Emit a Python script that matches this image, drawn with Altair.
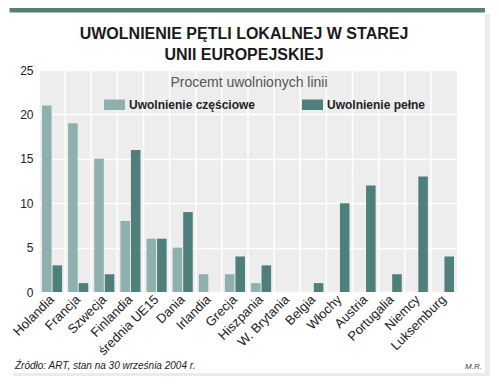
import altair as alt
import pandas as pd

countries = ["Holandia", "Francja", "Szwecja", "Finlandia", "średnia UE15", "Dania",
             "Irlandia", "Grecja", "Hiszpania", "W. Brytania", "Belgia", "Włochy",
             "Austria", "Portugalia", "Niemcy", "Luksemburg"]
partial = [21, 19, 15, 8, 6, 5, 2, 2, 1, 0, 0, 0, 0, 0, 0, 0]
full = [3, 1, 2, 16, 6, 9, 0, 4, 3, 0, 1, 10, 12, 2, 13, 4]
series = ["Uwolnienie częściowe", "Uwolnienie pełne"]
colors = ["#8eb0ae", "#4f7f7b"]
y_ticks = [0, 5, 10, 15, 20, 25]

title_lines = ["UWOLNIENIE PĘTLI LOKALNEJ W STAREJ", "UNII EUROPEJSKIEJ"]
legend_title = "Procemt uwolnionych linii"
source_text = "Źródło: ART, stan na 30 września 2004 r."
author_text = "M.R."

rows = []
for c, p, f in zip(countries, partial, full):
    rows.append({"kraj": c, "seria": series[0], "wartosc": p})
    rows.append({"kraj": c, "seria": series[1], "wartosc": f})
df = pd.DataFrame(rows)
cat_df = pd.DataFrame({"kraj": countries})

SANS = "Liberation Sans, Arial, Helvetica, sans-serif"

W, H = 418, 222

x_enc = alt.X("kraj:N", sort=countries,
              scale=alt.Scale(paddingInner=0, paddingOuter=0),
              axis=alt.Axis(title=None, labelAngle=-45, labelFont=SANS, labelFontSize=13,
                            labelColor="#222222", ticks=False, domain=False, grid=False,
                            labelPadding=5))
y_enc = alt.Y("wartosc:Q", scale=alt.Scale(domain=[0, 25]),
              axis=alt.Axis(title=None, values=y_ticks, grid=True, gridColor="white",
                            gridWidth=1.5, domain=False, ticks=False, labelPadding=6,
                            labelFont=SANS, labelFontSize=12, labelColor="#222222"))

one = alt.Data(values=[{}])

shadow_r = alt.Chart(one).mark_rect(color="#ebebeb").encode(
    x=alt.value(446), x2=alt.value(451), y=alt.value(-56), y2=alt.value(307))
shadow_b = alt.Chart(one).mark_rect(color="#ebebeb").encode(
    x=alt.value(-26), x2=alt.value(451), y=alt.value(303), y2=alt.value(307))
top_bar = alt.Chart(one).mark_rect(color="#587e72").encode(
    x=alt.value(-29.5), x2=alt.value(446), y=alt.value(-62), y2=alt.value(-57.5))

title1 = alt.Chart(one).mark_text(
    text=title_lines[0], font=SANS, fontSize=16, fontWeight="bold", color="#1a1a1a",
    align="center", baseline="alphabetic").encode(x=alt.value(205), y=alt.value(-31))
title2 = alt.Chart(one).mark_text(
    text=title_lines[1], font=SANS, fontSize=16, fontWeight="bold", color="#1a1a1a",
    align="center", baseline="alphabetic").encode(x=alt.value(205), y=alt.value(-10))

vgrid = alt.Chart(cat_df).mark_rule(color="white", strokeWidth=1.5).encode(
    x=alt.X("kraj:N", sort=countries, bandPosition=0)
)

bars = alt.Chart(df).mark_bar().encode(
    x=x_enc,
    xOffset=alt.XOffset("seria:N", sort=series,
                        scale=alt.Scale(paddingInner=0.095, paddingOuter=0.2857)),
    y=y_enc,
    color=alt.Color("seria:N", sort=series,
                    scale=alt.Scale(domain=series, range=colors),
                    legend=alt.Legend(title=None, orient="none", legendX=65, legendY=24,
                                      direction="horizontal", gridAlign="each",
                                      columnPadding=46,
                                      symbolType="M-1,-0.5L1,-0.5L1,0.5L-1,0.5Z",
                                      symbolSize=441, symbolStrokeWidth=0,
                                      labelFont=SANS, labelFontSize=12,
                                      labelFontWeight="bold", labelColor="#222222",
                                      labelOffset=4)),
)

leg_title = alt.Chart(one).mark_text(
    text=legend_title, font=SANS, fontSize=14, color="#555555",
    align="center", baseline="alphabetic").encode(x=alt.value(210), y=alt.value(17))

src = alt.Chart(one).mark_text(
    text=source_text, font=SANS, fontSize=10, fontStyle="italic", color="#222222",
    align="left", baseline="alphabetic").encode(x=alt.value(-24), y=alt.value(299))

auth = alt.Chart(one).mark_text(
    text=author_text, font=SANS, fontSize=8, fontStyle="italic", color="#444444",
    align="right", baseline="alphabetic").encode(x=alt.value(443), y=alt.value(299))

chart = alt.layer(shadow_r, shadow_b, top_bar, title1, title2, vgrid, bars,
                  leg_title, src, auth).properties(
    width=W, height=H,
    autosize=alt.AutoSizeParams(type="none"),
    padding={"left": 31, "top": 62, "right": 34, "bottom": 84},
    background="white",
).configure_view(fill="#ededed", strokeWidth=0)

chart.save("out.html", embed_options={"renderer": "svg", "actions": False})
